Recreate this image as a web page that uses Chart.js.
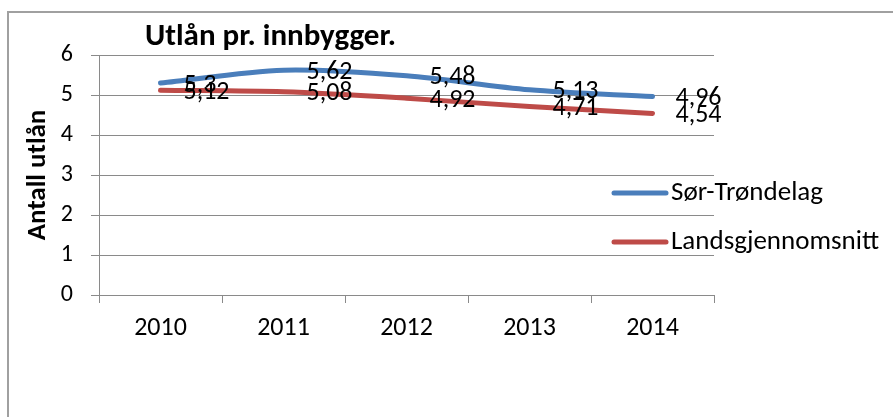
<!DOCTYPE html>
<html>
<head>
<meta charset="utf-8">
<title>Utlån pr. innbygger</title>
<script src="https://cdn.jsdelivr.net/npm/chart.js@4.4.1/dist/chart.umd.min.js"></script>
<style>
  html, body { margin: 0; padding: 0; background: #fff; }
  canvas { display: block; }
</style>
</head>
<body>
<canvas id="utlanChart" width="893" height="417"></canvas>
<script>
// Data
const years = ['2010', '2011', '2012', '2013', '2014'];
const sorTrondelag = [5.3, 5.62, 5.48, 5.13, 4.96];
const landsgjennomsnitt = [5.12, 5.08, 4.92, 4.71, 4.54];
const yTicks = [0, 1, 2, 3, 4, 5, 6];

const FONT = 'Carlito, Lato, sans-serif';
const GRID = '#8a8a8a';

// Excel-like extras: frame, title, data labels and right-hand legend
const excelDecor = {
    id: 'excelDecor',
    beforeDraw(chart) {
        const c = chart.ctx;
        c.save();
        c.fillStyle = '#fff';
        c.fillRect(0, 0, chart.width, chart.height);
        c.strokeStyle = '#a0a0a0';
        c.lineWidth = 2;
        c.beginPath();
        c.moveTo(chart.width, 12);
        c.lineTo(8, 12);
        c.lineTo(8, chart.height);
        c.stroke();
        c.restore();
    },
    afterDatasetsDraw(chart) {
        const c = chart.ctx;
        c.save();
        c.font = '26px ' + FONT;
        c.fillStyle = '#000';
        c.textAlign = 'left';
        c.textBaseline = 'middle';
        chart.data.datasets.forEach((ds, i) => {
            chart.getDatasetMeta(i).data.forEach((pt, j) => {
                c.fillText(String(ds.data[j]).replace('.', ','), pt.x + 23, pt.y + 2);
            });
        });
        c.restore();
    },
    afterDraw(chart) {
        const c = chart.ctx;
        c.save();
        c.fillStyle = '#000';
        c.textBaseline = 'middle';
        c.textAlign = 'left';
        c.font = 'bold 31px ' + FONT;
        c.fillText('Utlån pr. innbygger.', 145, 37);

        c.font = '27px ' + FONT;
        const rows = [193, 242];
        chart.data.datasets.forEach((ds, i) => {
            const y = rows[i];
            c.strokeStyle = ds.borderColor;
            c.lineWidth = 5;
            c.lineCap = 'round';
            c.beginPath();
            c.moveTo(614, y);
            c.lineTo(666, y);
            c.stroke();
            c.fillText(ds.label, 671, y);
        });
        c.restore();
    }
};

const ctx = document.getElementById('utlanChart').getContext('2d');

new Chart(ctx, {
    type: 'line',
    data: {
        labels: years,
        datasets: [
            {
                label: 'Sør-Trøndelag',
                data: sorTrondelag,
                borderColor: '#4A7EBB',
                borderWidth: 5,
                borderCapStyle: 'round',
                borderJoinStyle: 'round',
                pointRadius: 0,
                tension: 0.3,
                fill: false
            },
            {
                label: 'Landsgjennomsnitt',
                data: landsgjennomsnitt,
                borderColor: '#BE4B48',
                borderWidth: 5,
                borderCapStyle: 'round',
                borderJoinStyle: 'round',
                pointRadius: 0,
                tension: 0.3,
                fill: false
            }
        ]
    },
    options: {
        responsive: false,
        animation: false,
        devicePixelRatio: 1,
        layout: {
            padding: { top: 55, right: 179, bottom: 0, left: 0 }
        },
        plugins: {
            legend: { display: false },
            title: { display: false },
            tooltip: { enabled: false }
        },
        scales: {
            x: {
                offset: true,
                afterFit: (scale) => { scale.height = 122; },
                grid: {
                    drawOnChartArea: false,
                    drawTicks: true,
                    tickLength: 8,
                    offset: true,
                    color: GRID
                },
                border: { color: GRID, width: 1 },
                ticks: {
                    color: '#000',
                    padding: 10,
                    maxRotation: 0,
                    font: { family: FONT, size: 26 }
                }
            },
            y: {
                min: 0,
                max: 6,
                afterFit: (scale) => { scale.width = 99; },
                afterBuildTicks: (scale) => {
                    scale.ticks = yTicks.map(v => ({ value: v }));
                },
                grid: {
                    color: GRID,
                    tickLength: 8
                },
                border: { color: GRID, width: 1 },
                ticks: {
                    color: '#000',
                    padding: 18,
                    font: { family: FONT, size: 24 }
                },
                title: {
                    display: true,
                    text: 'Antall utlån',
                    color: '#000',
                    padding: { top: 22, bottom: 0 },
                    font: { family: FONT, size: 27, weight: 'bold' }
                }
            }
        }
    },
    plugins: [excelDecor]
});
</script>
</body>
</html>
